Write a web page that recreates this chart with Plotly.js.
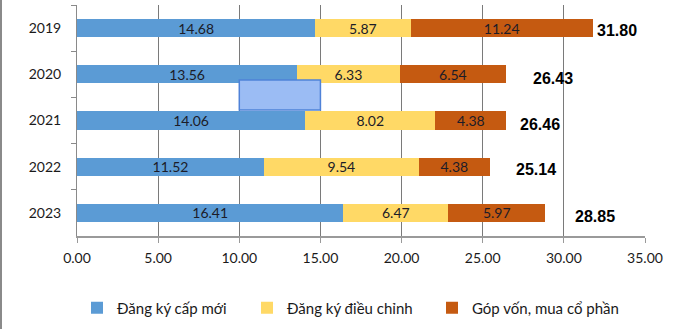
<!DOCTYPE html>
<html>
<head>
<meta charset="utf-8">
<script src="https://cdn.plot.ly/plotly-3.0.1.min.js"></script>
<style>
html,body{margin:0;padding:0;background:#fff;}
#chart{width:691px;height:329px;box-sizing:border-box;border-left:2px solid #8a8a8a;}
</style>
</head>
<body>
<div id="chart"></div>
<script>
const years = ["2019", "2020", "2021", "2022", "2023"];
const newReg = [14.68, 13.56, 14.06, 11.52, 16.41];
const adjReg = [5.87, 6.33, 8.02, 9.54, 6.47];
const capital = [11.24, 6.54, 4.38, 4.38, 5.97];
const totals = [31.80, 26.43, 26.46, 25.14, 28.85];
const seriesNames = ["Đăng ký cấp mới", "Đăng ký điều chỉnh", "Góp vốn, mua cổ phần"];
const xTicks = [0, 5, 10, 15, 20, 25, 30, 35];

const colors = ["#5B9BD5", "#FFD966", "#C55A11"];
const legendWidths = [125, 140, 160];
const segFont = {family: "Lato, 'Open Sans', sans-serif", size: 14, color: "#1c1c28"};

function barTrace(vals, i) {
  return {
    type: "bar", orientation: "h",
    x: vals, y: years, name: seriesNames[i],
    legendwidth: legendWidths[i],
    marker: {color: colors[i], line: {width: 0}},
    text: vals.map(v => v.toFixed(2)),
    textposition: "inside", insidetextanchor: "middle",
    textfont: segFont, constraintext: "none",
    hoverinfo: "x+name"
  };
}
const data = [barTrace(newReg, 0), barTrace(adjReg, 1), barTrace(capital, 2)];

// per-label nudges of the total labels (pixel offsets, matching the reference)
const totShiftX = [2, 25, 12, 29, 28];
const totShiftY = [-2, -4, -4, -3, -4];
const annotations = totals.map((t, i) => ({
  x: t, y: i, xref: "x", yref: "y",
  text: t.toFixed(2), showarrow: false,
  xanchor: "left", yanchor: "middle",
  xshift: totShiftX[i], yshift: totShiftY[i],
  font: {family: "'Liberation Sans', Arial, sans-serif", size: 16, color: "#000", weight: "bold"}
}));

const layout = {
  width: 691, height: 329,
  margin: {l: 75, r: 48, t: 5, b: 93},
  paper_bgcolor: "#fff", plot_bgcolor: "#fff",
  barmode: "stack", bargap: 0.61,
  showlegend: true,
  legend: {
    orientation: "h", x: 0, xanchor: "left", y: -0.312, yanchor: "middle",
    bgcolor: "rgba(0,0,0,0)",
    font: {family: "Lato, 'Open Sans', sans-serif", size: 15, color: "#1a1a1a"},
    traceorder: "normal", itemwidth: 30
  },
  xaxis: {
    range: [0, 35], tickvals: xTicks, tickformat: ".2f",
    showgrid: true, gridcolor: "#7a7a7a", gridwidth: 1,
    zeroline: false, showline: true, linecolor: "#9a9a9a", linewidth: 2,
    ticks: "outside", ticklen: 5, tickcolor: "#9a9a9a",
    ticklabelstandoff: 3,
    tickfont: {family: "Lato, 'Open Sans', sans-serif", size: 14, color: "#1a1a1a"},
    fixedrange: true
  },
  yaxis: {
    type: "category", categoryorder: "array", categoryarray: years,
    range: [4.5, -0.5],
    showline: true, linecolor: "#8a8a8a", linewidth: 1,
    ticks: "outside", ticklen: 5, tickcolor: "#8a8a8a", tickson: "boundaries",
    ticklabelstandoff: 12,
    showgrid: false, zeroline: false,
    tickfont: {family: "Lato, 'Open Sans', sans-serif", size: 14, color: "#1a1a1a"},
    fixedrange: true
  },
  annotations: annotations,
  shapes: [{
    type: "rect", xref: "x", yref: "paper",
    x0: 10, x1: 15, y0: 0.545, y1: 0.675,
    fillcolor: "#9bbcf4", line: {color: "#4f82d8", width: 1.5}, layer: "above"
  }]
};

Plotly.newPlot("chart", data, layout, {displayModeBar: false, staticPlot: true});
</script>
</body>
</html>
